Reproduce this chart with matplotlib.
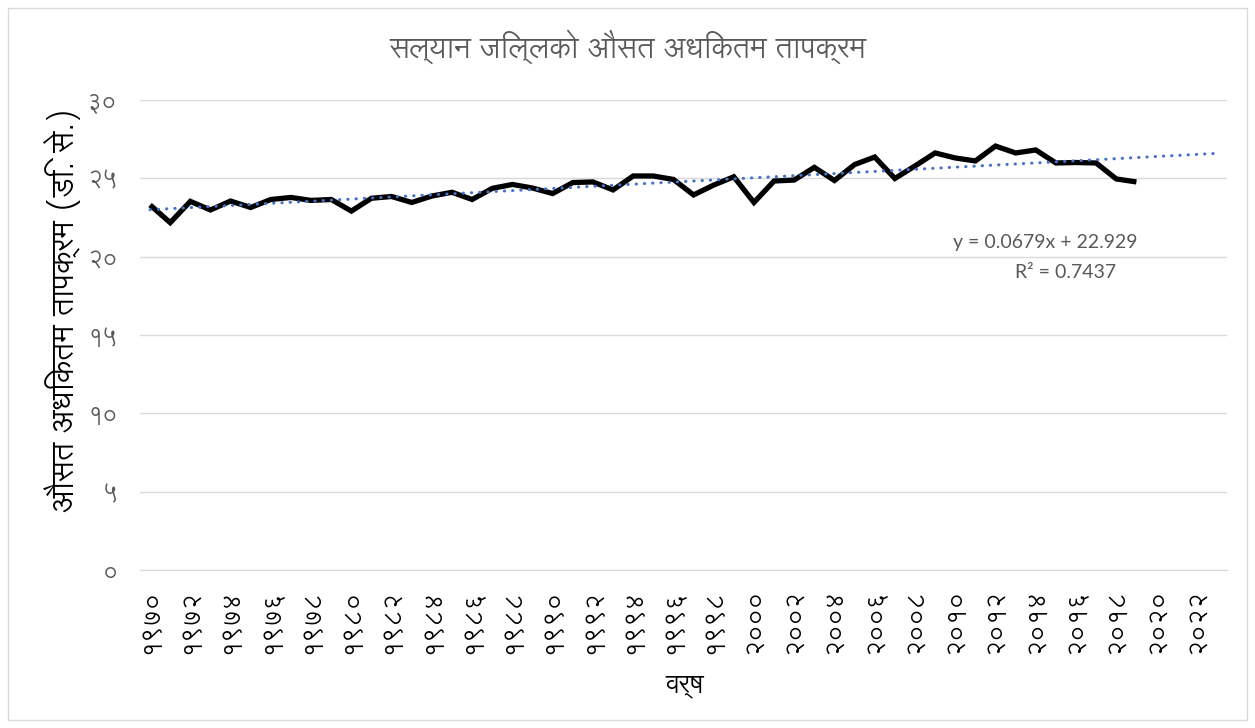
import matplotlib
matplotlib.use("Agg")
import matplotlib.pyplot as plt
from matplotlib import font_manager
from matplotlib.ft2font import FT2Font
from matplotlib.patches import Rectangle
import numpy as np

# ---------------- data ----------------
years = list(range(1970, 2020))
max_temp = [23.30, 22.17, 23.53, 22.98, 23.55, 23.14, 23.65, 23.78, 23.59, 23.65,
            22.91, 23.73, 23.84, 23.46, 23.87, 24.11, 23.65, 24.36, 24.61, 24.38,
            24.03, 24.73, 24.77, 24.26, 25.15, 25.15, 24.93, 23.94, 24.57, 25.10,
            23.46, 24.83, 24.89, 25.70, 24.86, 25.88, 26.36, 24.99, 25.79, 26.62,
            26.30, 26.11, 27.06, 26.62, 26.81, 25.98, 26.01, 25.98, 24.96, 24.77]
trend_slope = 0.0679
trend_intercept = 22.929
r_squared = 0.7437
x_tick_years = list(range(1970, 2023, 2))
y_ticks = [0, 5, 10, 15, 20, 25, 30]

title = "सल्यान जिल्लको औसत अधिकतम तापक्रम"
xlabel = "वर्ष"
ylabel = "औसत अधिकतम तापक्रम (डि. से.)"

DEV = str.maketrans("0123456789", "०१२३४५६७८९")

# ------------- find a Devanagari-capable font -------------
found = {}
for path in font_manager.findSystemFonts():
    try:
        f = FT2Font(path)
        cm = f.get_charmap()
        if 0x0915 in cm and 0x0967 in cm:
            font_manager.fontManager.addfont(path)
            found.setdefault(f.family_name, path)
    except Exception:
        pass
dev_font = None
for pref in ["Lohit Devanagari", "Ek Mukta", "Mukta", "Martel Sans", "Amiko", "Jaldi"]:
    if pref in found:
        dev_font = pref
        break
if dev_font is None and found:
    dev_font = sorted(found)[0]

families = ([dev_font] if dev_font else []) + ["DejaVu Sans"]
plt.rcParams["font.family"] = families

# ---------------- figure ----------------
fig = plt.figure(figsize=(12.55, 7.28), dpi=100)
fig.patches.append(Rectangle((8 / 1255, 8 / 728), 1 - 16 / 1255, 1 - 16 / 728,
                             transform=fig.transFigure, fill=False,
                             edgecolor="#D9D9D9", linewidth=1))

ax = fig.add_axes([140 / 1255, 1 - 570 / 728, (1227 - 140) / 1255, (570 - 100) / 728])

ax.plot(years, max_temp, color="black", linewidth=3.8, solid_joinstyle="miter",
        solid_capstyle="butt", zorder=3)

tx = np.array([1970, 2023])
ty = trend_intercept + trend_slope * (tx - 1969)
ax.plot(tx, ty, color="#4472C4", linewidth=2.2, linestyle=(0, (0.1, 2.6)),
        dash_capstyle="round", zorder=4)

ax.set_xlim(1969.5, 2023.5)
ax.set_ylim(0, 30)
ax.set_yticks(y_ticks)
ax.set_yticklabels([str(v).translate(DEV) for v in y_ticks], color="#595959", fontsize=17)
ax.set_xticks(x_tick_years)
ax.set_xticklabels([str(v).translate(DEV) for v in x_tick_years], rotation=90,
                   color="black", fontsize=18)
ax.tick_params(axis="both", length=0)
ax.tick_params(axis="y", pad=16)
ax.tick_params(axis="x", pad=14)
ax.grid(axis="y", color="#D9D9D9", linewidth=1)
ax.set_axisbelow(True)
for s in ["top", "right", "left"]:
    ax.spines[s].set_visible(False)
ax.spines["bottom"].set_color("#D9D9D9")

fig.text(0.5, 1 - 47 / 728, title, ha="center", va="center", fontsize=21, color="#595959")
fig.text(685 / 1255, 1 - 685 / 728, xlabel, ha="center", va="center", fontsize=19, color="black")
fig.text(62 / 1255, 1 - 310 / 728, ylabel, ha="center", va="center", rotation=90,
         fontsize=22, color="black")

ax.text(1045 / 1255, 1 - 243 / 728, "y = 0.0679x + 22.929", transform=fig.transFigure,
        ha="center", va="center", fontsize=14, color="#595959", family="Lato")
ax.text(1066 / 1255, 1 - 272 / 728, "R² = 0.7437", transform=fig.transFigure,
        ha="center", va="center", fontsize=14, color="#595959", family="Lato")

fig.savefig("out.png", dpi=100)
